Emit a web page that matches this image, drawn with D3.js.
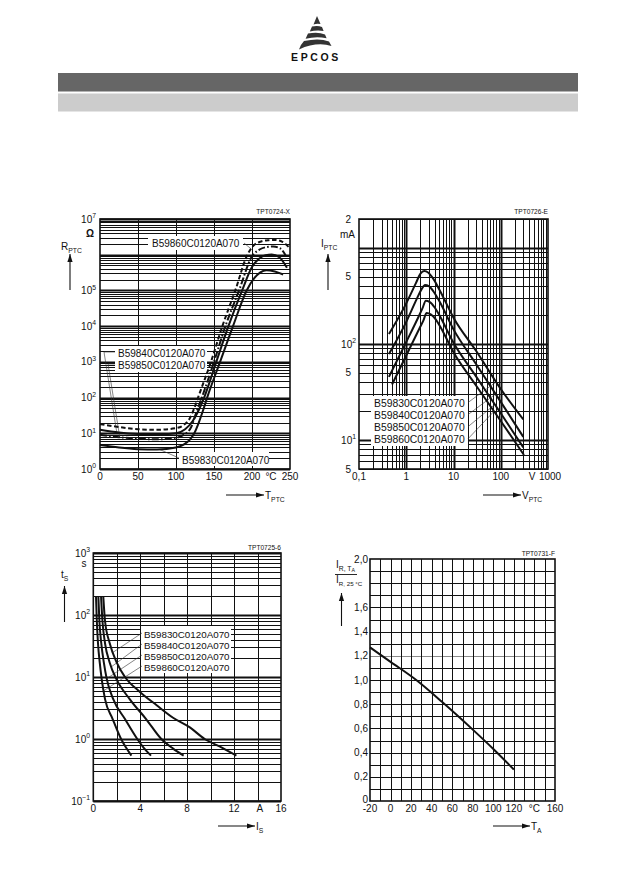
<!DOCTYPE html>
<html>
<head>
<meta charset="utf-8">
<script src="https://cdn.jsdelivr.net/npm/d3@7"></script>
<style>
  body { margin: 0; background: #fff; }
  svg { display: block; font-family: "Liberation Sans", Arial, sans-serif; }
  text { fill: #111; }
</style>
</head>
<body>
<svg width="630" height="893"></svg>
<script>
// ---- data ----
const partNames = ["B59830C0120A070", "B59840C0120A070", "B59850C0120A070", "B59860C0120A070"];

// R_PTC (Ω) against T_PTC (°C)
const rt830 = [[0,4.7],[25,4],[50,3.6],[75,3.5],[100,4],[110,4.8],[118,6.5],[124,10],[130,20],[135,40],[141,100],[158,1e3],[175,1e4],[193,1e5],[203,2.2e5],[211,3.2e5],[219,3.7e5],[230,3.4e5],[241,2.8e5]];
const rt840 = [[0,12.5],[25,10.5],[50,9.5],[75,9.2],[100,10],[112,13],[122,22],[130,45],[137,100],[153,1e3],[169,1e4],[187,1e5],[200,4.5e5],[210,8e5],[218,9.7e5],[226,1.02e6],[236,8.5e5],[246,4.3e5]];
const rt850 = [[0,9],[25,7.8],[50,7],[75,6.8],[100,7.5],[110,9],[120,15],[127,40],[134,100],[150,1e3],[165,1e4],[183,1e5],[200,9e5],[210,1.4e6],[220,1.65e6],[228,1.7e6],[237,1.5e6],[245,9e5]];
const rt860 = [[0,18],[25,15],[50,13],[75,12.5],[100,14],[110,17],[118,26],[124,50],[129,100],[146,1e3],[161,1e4],[178,1e5],[194,1e6],[202,1.8e6],[212,2.35e6],[222,2.55e6],[230,2.6e6],[240,2.3e6],[250,1.5e6]];
const rtTempTicks = [0, 50, 100, 150, 200, 250];
const rtResExponents = [7, 5, 4, 3, 2, 1, 0];

// I_PTC (mA) against V_PTC (V)
const vi830 = [[0.43,127],[1,265],[1.6,430],[2.0,540],[2.4,575],[2.9,555],[3.6,490],[5,370],[10,188],[30,85],[100,34],[300,16.4]];
const vi840 = [[0.43,78.5],[1,170],[1.7,300],[2.1,370],[2.5,411],[3.0,400],[3.8,350],[5,280],[10,142],[30,62],[100,25],[300,10.8]];
const vi850 = [[0.43,45.5],[1,105],[1.8,190],[2.2,235],[2.6,282],[3.1,275],[4,240],[5,200],[10,103],[30,46],[100,19],[300,8.4]];
const vi860 = [[0.5,37.9],[1,76],[1.9,145],[2.3,175],[2.7,210],[3.3,203],[4.2,180],[5,158],[10,82],[30,37],[100,15.8],[310,7.0]];
const viVoltTicks = [[0.1,"0,1"],[1,"1"],[10,"10"],[100,"100"],[1000,"1000"]];
const viCurrentTicks = [[2000,"2"],[500,"5"],[100,"10","2"],[50,"5"],[10,"10","1"],[5,"5"]];

// t_s (s) against I_s (A)
const ts830 = [[0.85,200],[1.0,80],[1.4,35],[2.0,17],[2.7,10],[4.0,5.7],[5.4,3.5],[6.8,2.2],[8.2,1.55],[9.5,1.0],[11,0.72],[12.2,0.54]];
const ts840 = [[0.66,200],[0.78,80],[1.0,35],[1.4,17],[1.95,9.4],[3.1,4.4],[4.5,2.1],[5.8,1.0],[6.8,0.7],[7.7,0.54]];
const ts850 = [[0.43,200],[0.52,80],[0.68,35],[0.9,17],[1.14,9.4],[1.7,4.4],[2.7,2.1],[3.75,1.0],[4.3,0.72],[4.92,0.54]];
const ts860 = [[0.23,200],[0.3,80],[0.4,35],[0.55,17],[0.71,9.4],[1.0,4.4],[1.65,2.1],[2.37,1.0],[2.8,0.72],[3.25,0.54]];
const tsCurrentTicks = [0, 4, 8, 12, 16];
const tsTimeExponents = ["3", "2", "1", "0", "\u22121"];

// I_R,TA / I_R,25°C against T_A (°C)
const ratioTemp = [-20, 0, 25, 50, 80, 100, 120];
const ratioValue = [1.27, 1.15, 1.0, 0.82, 0.59, 0.43, 0.26];
const ratioTempTicks = [-20, 0, 20, 40, 60, 80, 100, 120, 160];
const ratioTicks = [[2,"2,0"],[1.6,"1,6"],[1.4,"1,4"],[1.2,"1,2"],[1,"1,0"],[0.8,"0,8"],[0.6,"0,6"],[0.4,"0,4"],[0.2,"0,2"],[0,"0"]];

// ---- drawing ----
const ink = "#111";
const svg = d3.select("svg");

const logSteps = (lo, hi) => {
  const out = [];
  for (let e = Math.floor(Math.log10(lo)); e <= Math.ceil(Math.log10(hi)); e++)
    for (let m = 1; m <= 9; m++) {
      const v = m * Math.pow(10, e);
      if (v >= lo * 0.999 && v <= hi * 1.001) out.push({ v, w: m === 1 ? 2 : 1 });
    }
  return out;
};

const drawGrid = (g, X, Y, xs, ys) => {
  const [xa, xb] = X.range(), [ya, yb] = Y.range();
  g.append("g").selectAll("line").data(ys).join("line")
    .attr("x1", xa).attr("x2", xb)
    .attr("y1", d => Math.round(Y(d.v)) + 0.5).attr("y2", d => Math.round(Y(d.v)) + 0.5)
    .attr("stroke", d => d.c || ink).attr("stroke-width", d => d.w);
  g.append("g").selectAll("line").data(xs).join("line")
    .attr("y1", ya).attr("y2", yb)
    .attr("x1", d => Math.round(X(d.v)) + 0.5).attr("x2", d => Math.round(X(d.v)) + 0.5)
    .attr("stroke", ink).attr("stroke-width", d => d.w);
  g.append("rect")
    .attr("x", xa).attr("y", yb).attr("width", xb - xa).attr("height", ya - yb)
    .attr("fill", "none").attr("stroke", ink).attr("stroke-width", 1.6);
};

const supText = (g, x, y, base, exp, anchor = "end", size = 10) => {
  const t = g.append("text").attr("x", x).attr("y", y).attr("text-anchor", anchor).attr("font-size", size);
  t.append("tspan").text(base);
  if (exp) t.append("tspan").attr("dy", -size * 0.42).attr("font-size", size * 0.68).text(exp);
  return t;
};

const subText = (g, x, y, base, s, size = 10) => {
  const t = g.append("text").attr("x", x).attr("y", y).attr("font-size", size);
  t.append("tspan").text(base);
  t.append("tspan").attr("dy", size * 0.32).attr("font-size", size * 0.68).text(s);
  return t;
};

const arrow = (g, x1, y1, x2, y2) => {
  g.append("line").attr("x1", x1).attr("y1", y1).attr("x2", x2).attr("y2", y2)
    .attr("stroke", ink).attr("stroke-width", 1.1);
  const a = Math.atan2(y2 - y1, x2 - x1), L = 8, W = 2.6;
  const bx = x2 - L * Math.cos(a), by = y2 - L * Math.sin(a);
  g.append("path")
    .attr("d", `M${x2},${y2}L${bx + W * Math.sin(a)},${by - W * Math.cos(a)}L${bx - W * Math.sin(a)},${by + W * Math.cos(a)}Z`)
    .attr("fill", ink);
};

const code = (g, x, y, s) =>
  g.append("text").attr("x", x).attr("y", y).attr("text-anchor", "end").attr("font-size", 6.6).text(s);

const labelBox = (g, x, y, w, h) =>
  g.append("rect").attr("x", x).attr("y", y).attr("width", w).attr("height", h).attr("fill", "#fff");

const leader = (g, pts) =>
  g.append("path").attr("d", d3.line()(pts)).attr("fill", "none").attr("stroke", "#333").attr("stroke-width", 0.6);

// screen-space helpers for leader ends
const yAtX = (P, sx) => {
  for (let i = 0; i < P.length - 1; i++) {
    const [a, b] = [P[i], P[i + 1]];
    if (sx >= a[0] && sx <= b[0]) return a[1] + (b[1] - a[1]) * (sx - a[0]) / (b[0] - a[0]);
  }
  return P[P.length - 1][1];
};
const xAtY = (P, sy) => {
  for (let i = 0; i < P.length - 1; i++) {
    const [a, b] = [P[i], P[i + 1]];
    if ((sy - a[1]) * (sy - b[1]) <= 0) return a[0] + (b[0] - a[0]) * (sy - a[1]) / (b[1] - a[1]);
  }
  return P[P.length - 1][0];
};

// ---- page header ----
const head = svg.append("g");
const logoFill = "#333";
[
  "M317,16 L320.5,24 Q317,23.2 313.5,24.4 Z",
  "M312,26.5 Q318,25.4 322,27 L323.6,31 Q317,29.6 309.8,31.6 Z",
  "M308,33.6 Q318,31.8 325,34.4 L326.6,38.2 Q316,35.8 305.6,38.8 Z",
  "M304,41 Q319,37.6 329,41.4 L331.5,46 Q317,41.4 299,49.4 Q301,44 304,41 Z"
].forEach(d => head.append("path").attr("d", d).attr("fill", logoFill));
head.append("text").attr("x", 316).attr("y", 61).attr("text-anchor", "middle")
  .attr("font-size", 10.5).attr("font-weight", "bold").attr("letter-spacing", 2.6)
  .attr("fill", "#222").text("EPCOS");
head.append("rect").attr("x", 58).attr("y", 73).attr("width", 520).attr("height", 18.5).attr("fill", "#666");
head.append("rect").attr("x", 58).attr("y", 93.5).attr("width", 520).attr("height", 18).attr("fill", "#ccc");

// ---- chart 1: R_PTC = f(T_PTC) ----
{
  const g = svg.append("g");
  const X = d3.scaleLinear().domain([0, 250]).range([100, 290]);
  const Y = d3.scaleLog().domain([1, 1e7]).range([469, 219]);
  drawGrid(g, X, Y, [50, 100, 150, 200].map(v => ({ v, w: 1 })), logSteps(1, 1e7));
  code(g, 290, 214, "TPT0724-X");

  const line = d3.line().x(d => X(d[0])).y(d => Y(d[1])).curve(d3.curveMonotoneX);

  // labels with white backing
  labelBox(g, 148, 236, 95, 14);
  g.append("text").attr("x", 152).attr("y", 247).attr("font-size", 10).text(partNames[3]);
  labelBox(g, 115, 346, 92, 26);
  g.append("text").attr("x", 118).attr("y", 357).attr("font-size", 10).text(partNames[1]);
  g.append("text").attr("x", 118).attr("y", 369).attr("font-size", 10).text(partNames[2]);
  labelBox(g, 179, 452, 90, 14);
  g.append("text").attr("x", 182).attr("y", 463.5).attr("font-size", 10).text(partNames[0]);

  const P = c => c.map(d => [X(d[0]), Y(d[1])]);
  leader(g, [[244, 243], [X(199), yAtX(P(rt860), X(199))]]);
  leader(g, [[115, 352], [104, 352], [X(22), yAtX(P(rt840), X(22))]]);
  leader(g, [[115, 364], [108, 364], [X(26), yAtX(P(rt850), X(26))]]);
  leader(g, [[179, 458], [X(78), yAtX(P(rt830), X(78))]]);

  const styles = [
    [rt830, null], [rt840, null], [rt850, "7,2.2,1.6,2.2"], [rt860, "4.5,2.6"]
  ];
  styles.forEach(([c, dash]) =>
    g.append("path").attr("d", line(c)).attr("fill", "none").attr("stroke", ink)
      .attr("stroke-width", 2).attr("stroke-dasharray", dash));

  rtTempTicks.forEach(v =>
    g.append("text").attr("x", X(v)).attr("y", 480).attr("text-anchor", "middle").attr("font-size", 10).text(v));
  g.append("text").attr("x", X(225)).attr("y", 480).attr("text-anchor", "middle").attr("font-size", 10).text("°C");
  rtResExponents.forEach(e => supText(g, 96, Y(Math.pow(10, e)) + 3.5, "10", String(e)));
  g.append("text").attr("x", 86).attr("y", 237).attr("font-size", 10).attr("font-weight", "bold").text("Ω");
  subText(g, 61, 250, "R", "PTC");
  arrow(g, 70, 290, 70, 254);
  arrow(g, 226, 495, 264, 495);
  subText(g, 265, 499, "T", "PTC");
}

// ---- chart 2: I_PTC = f(V_PTC) ----
{
  const g = svg.append("g");
  const X = d3.scaleLog().domain([0.1, 1000]).range([359, 548]);
  const Y = d3.scaleLog().domain([5, 2000]).range([469, 219]);
  drawGrid(g, X, Y, logSteps(0.1, 1000).slice(1, -1), logSteps(5, 2000));
  code(g, 548, 214, "TPT0726-E");

  labelBox(g, 371, 396, 97, 50);
  partNames.forEach((n, i) =>
    g.append("text").attr("x", 374).attr("y", 406.5 + i * 12.1).attr("font-size", 10.4).text(n));

  const line = d3.line().x(d => X(d[0])).y(d => Y(d[1])).curve(d3.curveMonotoneX);
  const curves = [vi830, vi840, vi850, vi860];
  curves.forEach((c, i) => {
    const P = c.map(d => [X(d[0]), Y(d[1])]);
    const sx = X([80, 78, 75, 72][i]);
    leader(g, [[468, 402.5 + i * 12.1], [sx, yAtX(P, sx)]]);
  });
  curves.forEach(c =>
    g.append("path").attr("d", line(c)).attr("fill", "none").attr("stroke", ink).attr("stroke-width", 2));

  viVoltTicks.forEach(([v, s]) =>
    g.append("text").attr("x", X(v) + (v === 1000 ? 2 : 0)).attr("y", 480).attr("text-anchor", "middle").attr("font-size", 10).text(s));
  g.append("text").attr("x", 532).attr("y", 480).attr("text-anchor", "middle").attr("font-size", 10).text("V");
  viCurrentTicks.forEach(([v, s, e]) =>
    supText(g, e ? 356 : 351, Y(v) + 3.5, s, e));
  g.append("text").attr("x", 355).attr("y", 238).attr("text-anchor", "end").attr("font-size", 10).text("mA");
  subText(g, 321, 247, "I", "PTC");
  arrow(g, 328, 290, 328, 254);
  arrow(g, 483, 495, 521, 495);
  subText(g, 522, 499, "V", "PTC");
}

// ---- chart 3: t_s = f(I_s) ----
{
  const g = svg.append("g");
  const X = d3.scaleLinear().domain([0, 16]).range([93.3, 281]);
  const Y = d3.scaleLog().domain([0.1, 1000]).range([801, 553]);
  drawGrid(g, X, Y, d3.range(2, 16, 2).map(v => ({ v, w: 1 })), logSteps(0.1, 1000));
  code(g, 281, 550, "TPT0725-6");

  labelBox(g, 141, 626, 90, 47);
  partNames.forEach((n, i) =>
    g.append("text").attr("x", 144).attr("y", 637.5 + i * 11).attr("font-size", 9.8).text(n));

  const line = d3.line().x(d => X(d[0])).y(d => Y(d[1])).curve(d3.curveMonotoneX);
  const curves = [ts830, ts840, ts850, ts860];
  const leaderTimes = [25, 14.6, 9.4, 6];
  curves.forEach((c, i) => {
    const P = c.map(d => [X(d[0]), Y(d[1])]);
    const sy = Y(leaderTimes[i]);
    leader(g, [[142, 633 + i * 11], [xAtY(P, sy), sy]]);
  });
  curves.forEach(c =>
    g.append("path").attr("d", line(c)).attr("fill", "none").attr("stroke", ink).attr("stroke-width", 2));

  tsCurrentTicks.forEach(v =>
    g.append("text").attr("x", X(v)).attr("y", 812).attr("text-anchor", "middle").attr("font-size", 10).text(v));
  g.append("text").attr("x", X(14.2)).attr("y", 812).attr("text-anchor", "middle").attr("font-size", 10).text("A");
  tsTimeExponents.forEach((e, i) => supText(g, 90, Y(Math.pow(10, 3 - i)) + 3.5, "10", e));
  g.append("text").attr("x", 81.5).attr("y", 567).attr("font-size", 10).text("s");
  subText(g, 61, 578, "t", "S");
  arrow(g, 64.5, 622, 64.5, 586);
  arrow(g, 218, 826, 255, 826);
  subText(g, 256, 830, "I", "S");
}

// ---- chart 4: I_R,TA / I_R,25°C = f(T_A) ----
{
  const g = svg.append("g");
  const X = d3.scaleLinear().domain([-20, 160]).range([370, 555]);
  const Y = d3.scaleLinear().domain([0, 2]).range([801, 559]);
  const ys = d3.range(1, 20).map(k => ({ v: k / 10, w: 1, c: k === 12 ? "#8a8a8a" : ink }));
  drawGrid(g, X, Y, d3.range(-10, 160, 10).map(v => ({ v, w: 1 })), ys);
  code(g, 555, 556, "TPT0731-F");

  const pts = ratioTemp.map((t, i) => [t, ratioValue[i]]);
  g.append("path")
    .attr("d", d3.line().x(d => X(d[0])).y(d => Y(d[1])).curve(d3.curveMonotoneX)(pts))
    .attr("fill", "none").attr("stroke", ink).attr("stroke-width", 2);

  ratioTempTicks.forEach(v =>
    g.append("text").attr("x", X(v)).attr("y", 812).attr("text-anchor", "middle").attr("font-size", 10).text(v));
  g.append("text").attr("x", X(140)).attr("y", 812).attr("text-anchor", "middle").attr("font-size", 10).text("°C");
  ratioTicks.forEach(([v, s]) =>
    g.append("text").attr("x", 368).attr("y", Y(v) + 3.5 - (v === 0 ? 2 : 0)).attr("text-anchor", "end").attr("font-size", 10).text(s));

  // fraction label
  const num = g.append("text").attr("x", 336).attr("y", 568).attr("font-size", 10);
  num.append("tspan").text("I");
  num.append("tspan").attr("dy", 2.5).attr("font-size", 6.8).text("R, T");
  num.append("tspan").attr("dy", 1.8).attr("font-size", 5.2).text("A");
  g.append("line").attr("x1", 335).attr("x2", 357).attr("y1", 574.5).attr("y2", 574.5)
    .attr("stroke", ink).attr("stroke-width", 0.9);
  const den = g.append("text").attr("x", 336).attr("y", 583).attr("font-size", 10);
  den.append("tspan").text("I");
  den.append("tspan").attr("dy", 2.5).attr("font-size", 6.2).text("R, 25 °C");
  arrow(g, 341.5, 626, 341.5, 593);
  arrow(g, 493, 826, 530, 826);
  subText(g, 531, 830, "T", "A");
}
</script>
</body>
</html>
